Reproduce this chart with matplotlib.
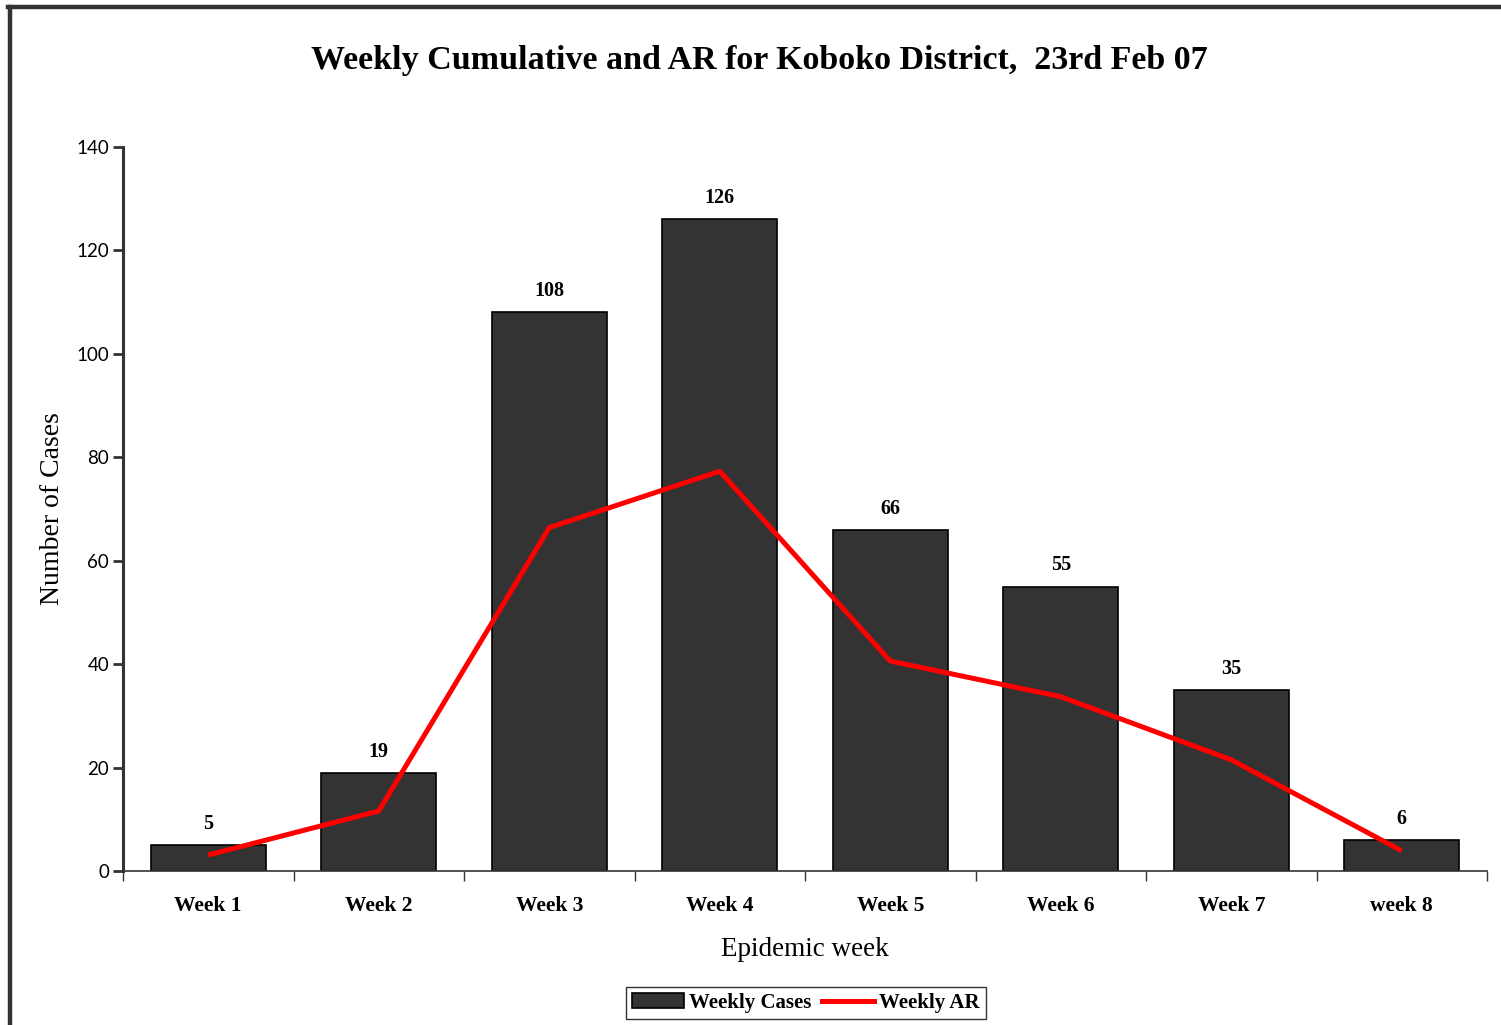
import matplotlib
matplotlib.use("Agg")
import matplotlib.pyplot as plt
from matplotlib.lines import Line2D
from matplotlib.patches import Patch

weeks = ["Week 1", "Week 2", "Week 3", "Week 4", "Week 5", "Week 6", "Week 7", "week 8"]
weekly_cases = [5, 19, 108, 126, 66, 55, 35, 6]
weekly_ar = [3.1, 11.6, 66.4, 77.3, 40.6, 33.7, 21.5, 3.9]
y_ticks = [0, 20, 40, 60, 80, 100, 120, 140]

SERIF = "Liberation Serif"
SANS = "Lato"

fig = plt.figure(figsize=(15.01, 10.25), dpi=100)
ax = fig.add_axes([123/1501, 154/1025, 1364/1501, 724/1025])

x = list(range(len(weeks)))
ax.bar(x, weekly_cases, width=0.675, color="#333333", edgecolor="black",
       linewidth=1.2, zorder=2)
ax.plot(x, weekly_ar, color="#ff0000", linewidth=3.6, zorder=3,
        solid_capstyle="butt")

for xi, v in zip(x, weekly_cases):
    ax.annotate(str(v), (xi, v), xytext=(0, 8), textcoords="offset points",
                ha="center", va="bottom", fontsize=14.5, fontweight="bold",
                family=SERIF)

ax.set_xlim(-0.5, len(weeks) - 0.5)
ax.set_ylim(0, 140)
ax.set_yticks(y_ticks)
ax.set_yticklabels([str(t) for t in y_ticks], family=SANS, fontsize=13.5)

ax.set_xticks(x)
ax.set_xticklabels(weeks, family=SERIF, fontsize=15.5, fontweight="bold")
ax.tick_params(axis="x", length=0, pad=18)
ax.set_xticks([i + 0.5 for i in range(-1, len(weeks))], minor=True)
ax.tick_params(axis="x", which="minor", length=7, width=1, color="#333333",
               direction="out")
ax.tick_params(axis="y", length=7, width=2, color="#333333", direction="out", pad=3)

for s in ["top", "right"]:
    ax.spines[s].set_visible(False)
ax.spines["left"].set_linewidth(2.2)
ax.spines["left"].set_color("#333333")
ax.spines["bottom"].set_linewidth(1.2)
ax.spines["bottom"].set_color("#333333")

ax.set_xlabel("Epidemic week", family=SERIF, fontsize=19.5, labelpad=15)
ax.set_ylabel("Number of Cases", family=SERIF, fontsize=20, labelpad=8)

fig.text(0.506, 1 - 60/1025, "Weekly Cumulative and AR for Koboko District,  23rd Feb 07",
         ha="center", va="center", family=SERIF, fontsize=24.5, fontweight="bold")

handles = [Patch(facecolor="#333333", edgecolor="black", linewidth=1.2),
           Line2D([0], [0], color="#ff0000", linewidth=3.6)]
leg = fig.legend(handles, ["Weekly Cases", "Weekly AR"], loc="center",
                 bbox_to_anchor=(806/1501, 1 - 1003/1025), ncol=2,
                 prop={"family": SERIF, "size": 15, "weight": "bold"},
                 frameon=True, fancybox=False, edgecolor="black",
                 handlelength=2.5, handletextpad=0.25, columnspacing=0.5,
                 borderpad=0.3, borderaxespad=0.0)
leg.get_frame().set_linewidth(1.0)

# outer frame (left and top edges)
fig.add_artist(Line2D([10/1501, 10/1501], [0, 1 - 7/1025], transform=fig.transFigure,
                      color="#333333", linewidth=3.2))
fig.add_artist(Line2D([8/1501, 1], [1 - 7/1025, 1 - 7/1025], transform=fig.transFigure,
                      color="#333333", linewidth=3.2))

fig.savefig("out.png", dpi=100, facecolor="white")
